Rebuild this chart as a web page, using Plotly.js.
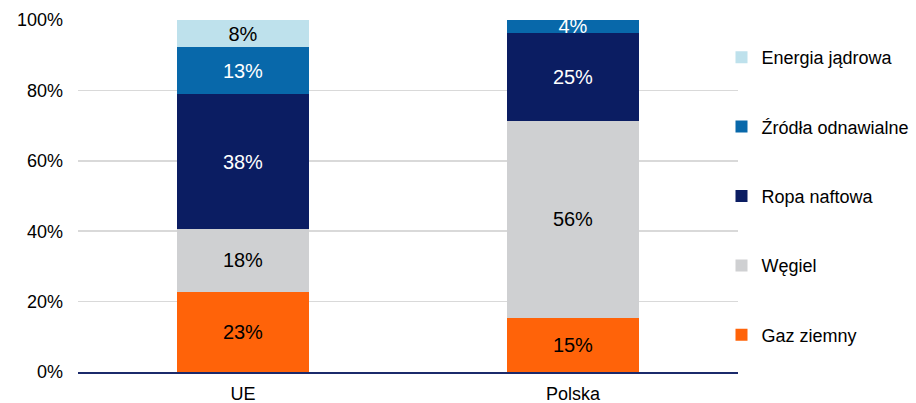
<!DOCTYPE html>
<html><head><meta charset="utf-8">
<script src="https://cdn.plot.ly/plotly-3.0.1.min.js"></script>
<style>html,body{margin:0;padding:0;background:#fff}#chart{width:916px;height:403px}</style>
</head><body><div id="chart"></div>
<script>
const categories = ["UE", "Polska"];
const gazZiemny = [22.8, 15.4];
const wegiel = [17.8, 55.9];
const ropaNaftowa = [38.4, 25.1];
const zrodlaOdnawialne = [13.2, 3.6];
const energiaJadrowa = [7.8, 0];
const yTicks = [0, 20, 40, 60, 80, 100];

const series = [
  {name: "Gaz ziemny", values: gazZiemny, color: "#FF6309", text: "#000000"},
  {name: "Węgiel", values: wegiel, color: "#CFD0D2", text: "#000000"},
  {name: "Ropa naftowa", values: ropaNaftowa, color: "#0B1D62", text: "#FFFFFF"},
  {name: "Źródła odnawialne", values: zrodlaOdnawialne, color: "#0868AA", text: "#FFFFFF"},
  {name: "Energia jądrowa", values: energiaJadrowa, color: "#BEE1EC", text: "#000000"}
];

const FONT = '"Liberation Sans", Arial, sans-serif';
const traces = series.map((s, i) => ({
  type: "bar",
  name: s.name,
  x: categories,
  y: s.values,
  legendgroup: "g" + i,
  legendrank: series.length - i,
  marker: {color: s.color, line: {width: 0}},
  text: s.values.map(v => v > 0 ? Math.round(v) + "%" : ""),
  textposition: "inside",
  insidetextanchor: "middle",
  textangle: 0,
  constraintext: "none",
  insidetextfont: {family: FONT, size: 20, color: s.text},
  hoverinfo: "skip"
}));

const layout = {
  width: 916, height: 403,
  margin: {l: 78, r: 178, t: 20, b: 31, autoexpand: false},
  barmode: "stack",
  bargap: 0.6,
  paper_bgcolor: "#fff",
  plot_bgcolor: "#fff",
  font: {family: FONT, size: 18, color: "#000"},
  xaxis: {
    showgrid: false, showline: true, linecolor: "#1B2A6B", linewidth: 1.5,
    ticks: "", ticklabelstandoff: 5, tickfont: {family: FONT, size: 18, color: "#000"}, fixedrange: true
  },
  yaxis: {
    range: [0, 100], tickvals: yTicks, ticktext: yTicks.map(v => v + "%"),
    showgrid: true, gridcolor: "#D9D9D9", gridwidth: 1.5, zeroline: false, showline: false,
    ticks: "", ticklabelstandoff: 14, tickfont: {family: FONT, size: 18, color: "#000"}, fixedrange: true
  },
  legend: {
    x: 0.975, xanchor: "left", y: 0.5, yanchor: "middle",
    traceorder: "grouped", tracegroupgap: 43,
    font: {family: FONT, size: 18, color: "#000"},
    bgcolor: "rgba(0,0,0,0)"
  },
  showlegend: true
};

Plotly.newPlot("chart", traces, layout, {displayModeBar: false, staticPlot: true});
</script></body></html>
